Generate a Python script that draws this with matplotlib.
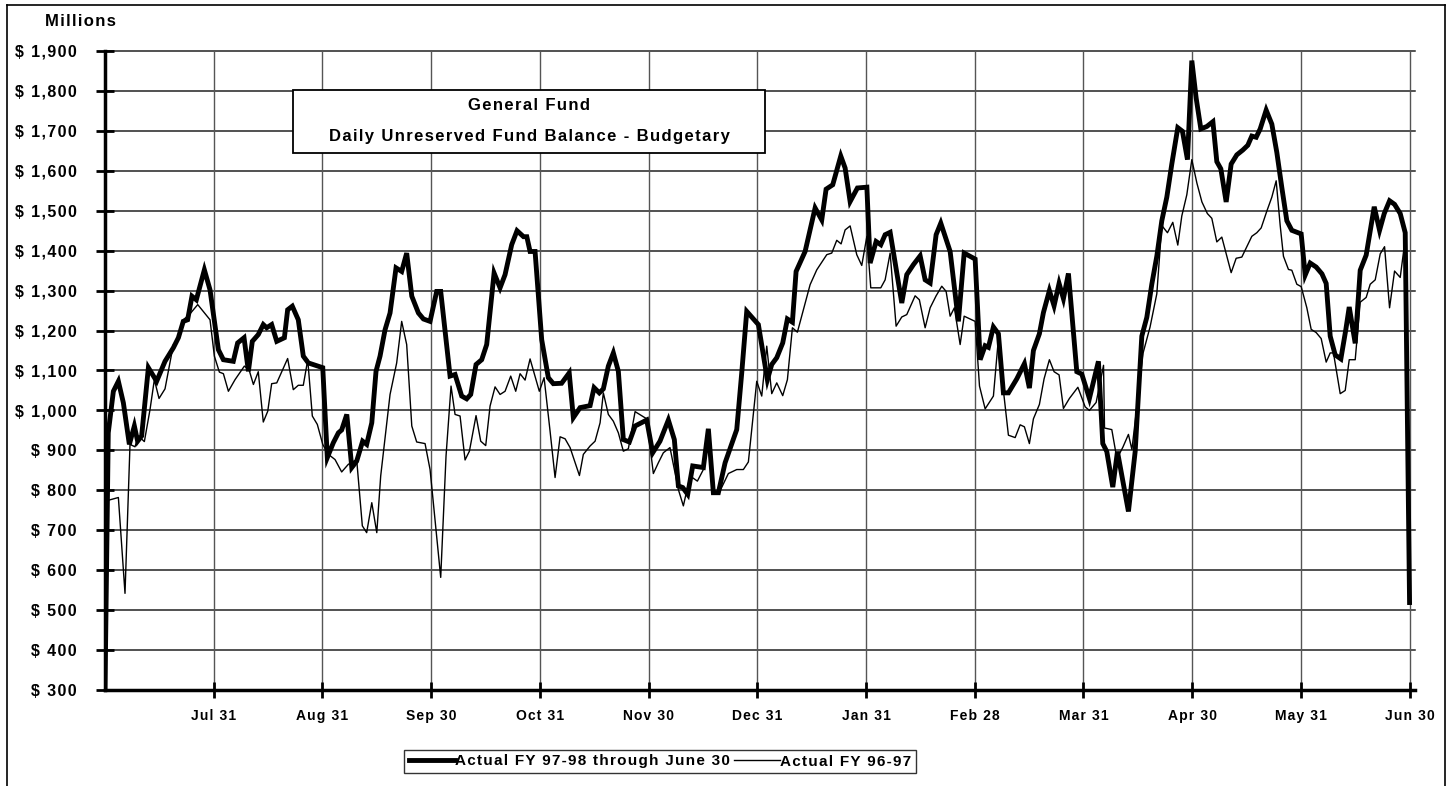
import matplotlib
matplotlib.use("Agg")
import matplotlib.pyplot as plt
from matplotlib.patches import Rectangle
from matplotlib.lines import Line2D

plt.rcParams['font.family'] = ['Liberation Sans', 'DejaVu Sans']
plt.rcParams['font.weight'] = 'bold'

# x = position in months since Jul 1 (1 = Jul 31 ... 12 = Jun 30)
month_labels = ["Jul 31", "Aug 31", "Sep 30", "Oct 31", "Nov 30", "Dec 31",
                "Jan 31", "Feb 28", "Mar 31", "Apr 30", "May 31", "Jun 30"]

fy98_x = [0.00, 0.03, 0.077, 0.123, 0.169, 0.224, 0.27, 0.30, 0.337, 0.399, 0.475, 0.552, 0.629, 0.675,
          0.72, 0.76, 0.80, 0.84, 0.914, 0.966, 1.043, 1.089, 1.18, 1.22, 1.279, 1.319, 1.355, 1.41,
          1.456, 1.487, 1.533, 1.58, 1.65, 1.68, 1.723, 1.778, 1.824, 1.87, 2.003, 2.045, 2.10, 2.147,
          2.177, 2.224, 2.27, 2.315, 2.37, 2.407, 2.454, 2.493, 2.53, 2.576, 2.622, 2.677, 2.729, 2.775,
          2.822, 2.883, 2.929, 2.99, 3.051, 3.088, 3.174, 3.22, 3.281, 3.327, 3.364, 3.413, 3.465, 3.511,
          3.579, 3.634, 3.68, 3.741, 3.79, 3.85, 3.88, 3.91, 3.956, 4.017, 4.078, 4.124, 4.2, 4.27,
          4.308, 4.37, 4.462, 4.499, 4.547, 4.584, 4.63, 4.676, 4.722, 4.768, 4.823, 4.876, 4.983, 5.038,
          5.105, 5.182, 5.237, 5.274, 5.314, 5.36, 5.406, 5.504, 5.55, 5.596, 5.642, 5.704, 5.811, 5.857,
          5.903, 6.01, 6.093, 6.133, 6.179, 6.234, 6.277, 6.323, 6.357, 6.44, 6.532, 6.593, 6.633, 6.694,
          6.768, 6.808, 6.854, 6.921, 7.008, 7.038, 7.093, 7.136, 7.176, 7.222, 7.329, 7.375, 7.436, 7.498,
          7.544, 7.59, 7.645, 7.688, 7.774, 7.85, 7.903, 8.004, 8.05, 8.096, 8.126, 8.172, 8.218, 8.264,
          8.31, 8.387, 8.457, 8.503, 8.54, 8.595, 8.632, 8.687, 8.73, 8.776, 8.816, 8.862, 8.939, 8.985,
          9.055, 9.138, 9.178, 9.215, 9.27, 9.313, 9.414, 9.476, 9.537, 9.583, 9.629, 9.675, 9.721, 9.767,
          9.813, 9.868, 9.911, 9.957, 9.997, 10.037, 10.08, 10.135, 10.191, 10.227, 10.264, 10.313, 10.359, 10.411,
          10.466, 10.512, 10.549, 10.589, 10.626, 10.681, 10.733, 10.779, 10.825, 10.871, 10.917, 11.003, 11.04, 11.086,
          11.141, 11.194, 11.233, 11.27, 11.316, 11.368, 11.414, 11.445, 11.5, 11.546, 11.601, 11.675, 11.724, 11.767,
          11.816, 11.862, 11.914, 11.96, 12.0]
fy98_y = [300, 944, 1048, 1073, 1019, 915, 961, 923, 936, 1107, 1073, 1123, 1157, 1182,
          1223, 1227, 1286, 1277, 1352, 1302, 1152, 1127, 1123, 1169, 1182, 1098, 1173, 1190,
          1215, 1207, 1215, 1173, 1182, 1252, 1261, 1227, 1136, 1119, 1107, 882, 919, 944,
          951, 990, 857, 873, 923, 915, 969, 1098, 1136, 1202, 1244, 1357, 1348, 1394,
          1286, 1244, 1229, 1223, 1298, 1298, 1086, 1090, 1036, 1029, 1040, 1115, 1127, 1165,
          1344, 1307, 1340, 1415, 1450, 1435, 1435, 1398, 1398, 1177, 1082, 1067, 1068, 1094,
          982, 1007, 1012, 1057, 1044, 1054, 1111, 1144, 1098, 927, 921, 961, 976, 894,
          923, 976, 927, 811, 807, 790, 861, 857, 954, 794, 794, 869, 952, 1094,
          1248, 1215, 1077, 1115, 1132, 1169, 1229, 1221, 1348, 1398, 1507, 1477, 1554, 1565,
          1637, 1607, 1523, 1557, 1559, 1369, 1423, 1415, 1440, 1446, 1269, 1340, 1365, 1387,
          1327, 1319, 1440, 1469, 1398, 1223, 1394, 1379, 1127, 1162, 1158, 1209, 1192, 1044,
          1044, 1079, 1117, 1056, 1150, 1192, 1245, 1300, 1262, 1318, 1280, 1343, 1097, 1091,
          1030, 1123, 917, 897, 808, 897, 747, 897, 1186, 1233, 1316, 1386, 1475, 1534,
          1617, 1708, 1699, 1628, 1876, 1782, 1705, 1711, 1723, 1623, 1605, 1522, 1617, 1640,
          1652, 1664, 1687, 1684, 1705, 1752, 1717, 1646, 1558, 1475, 1451, 1442, 1339, 1369,
          1359, 1342, 1318, 1186, 1139, 1129, 1203, 1259, 1168, 1351, 1389, 1510, 1451, 1493,
          1525, 1516, 1493, 1445, 519]

fy97_x = [0.03, 0.123, 0.184, 0.23, 0.276, 0.307, 0.362, 0.414, 0.454, 0.497, 0.552, 0.629, 0.675, 0.72,
          0.776, 0.853, 0.966, 1.006, 1.052, 1.089, 1.135, 1.196, 1.282, 1.325, 1.365, 1.41, 1.456, 1.497,
          1.533, 1.58, 1.68, 1.732, 1.778, 1.824, 1.865, 1.907, 1.953, 2.003, 2.055, 2.116, 2.177, 2.238,
          2.315, 2.367, 2.407, 2.454, 2.50, 2.536, 2.622, 2.683, 2.729, 2.775, 2.822, 2.867, 2.944, 2.99,
          3.088, 3.137, 3.183, 3.22, 3.266, 3.312, 3.352, 3.413, 3.456, 3.502, 3.542, 3.588, 3.634, 3.68,
          3.732, 3.778, 3.818, 3.864, 3.91, 3.995, 4.039, 4.094, 4.14, 4.186, 4.232, 4.278, 4.364, 4.4,
          4.462, 4.508, 4.554, 4.584, 4.63, 4.676, 4.722, 4.768, 4.814, 4.876, 4.983, 5.044, 5.09, 5.136,
          5.197, 5.274, 5.32, 5.382, 5.449, 5.504, 5.55, 5.596, 5.642, 5.734, 5.811, 5.872, 5.918, 5.995,
          6.041, 6.087, 6.133, 6.179, 6.234, 6.277, 6.323, 6.369, 6.424, 6.486, 6.547, 6.639, 6.685, 6.731,
          6.771, 6.808, 6.854, 6.915, 6.961, 7.008, 7.044, 7.136, 7.176, 7.222, 7.277, 7.329, 7.375, 7.452,
          7.491, 7.544, 7.59, 7.645, 7.697, 7.737, 7.774, 7.813, 7.866, 7.903, 8.004, 8.044, 8.096, 8.172,
          8.218, 8.264, 8.31, 8.372, 8.418, 8.457, 8.503, 8.54, 8.595, 8.638, 8.687, 8.73, 8.776, 8.816,
          8.871, 8.949, 9.016, 9.055, 9.117, 9.185, 9.194, 9.261, 9.308, 9.363, 9.414, 9.446, 9.549, 9.613,
          9.675, 9.721, 9.773, 9.822, 9.868, 9.905, 9.951, 9.997, 10.044, 10.09, 10.14, 10.181, 10.227, 10.273,
          10.359, 10.405, 10.457, 10.503, 10.549, 10.595, 10.635, 10.687, 10.733, 10.773, 10.81, 10.84, 10.886, 10.917,
          10.963, 11.003, 11.055, 11.095, 11.141, 11.187, 11.233, 11.27, 11.3, 11.362, 11.408, 11.445, 11.5, 11.546,
          11.601, 11.638, 11.684, 11.73, 11.77, 11.816, 11.862, 11.914, 11.945]
fy97_y = [775, 782, 542, 915, 909, 936, 922, 1002, 1077, 1030, 1054, 1165, 1177, 1227,
          1240, 1265, 1227, 1136, 1096, 1092, 1048, 1077, 1111, 1102, 1065, 1097, 971, 998,
          1067, 1069, 1130, 1052, 1063, 1063, 1127, 986, 965, 915, 890, 877, 846, 865,
          877, 711, 694, 769, 694, 836, 1040, 1119, 1223, 1165, 961, 921, 917, 852,
          582, 886, 1061, 990, 986, 876, 898, 987, 923, 912, 1011, 1059, 1040, 1048,
          1086, 1048, 1092, 1076, 1129, 1048, 1082, 948, 832, 934, 929, 907, 837, 890,
          911, 923, 969, 1044, 990, 973, 944, 898, 904, 997, 979, 842, 869, 894,
          907, 802, 761, 836, 823, 852, 944, 802, 790, 842, 852, 852, 871, 1073,
          1036, 1161, 1042, 1069, 1037, 1077, 1207, 1196, 1252, 1315, 1352, 1390, 1394, 1426,
          1417, 1452, 1462, 1390, 1363, 1436, 1307, 1307, 1327, 1394, 1211, 1234, 1240, 1287,
          1277, 1207, 1257, 1287, 1311, 1298, 1236, 1257, 1165, 1236, 1223, 1061, 1004, 1036,
          1180, 1050, 938, 932, 964, 959, 917, 979, 1015, 1079, 1127, 1097, 1089, 1005,
          1030, 1058, 1009, 1000, 1020, 1113, 956, 952, 879, 908, 940, 902, 1144, 1209,
          1292, 1463, 1445, 1471, 1414, 1487, 1540, 1628, 1569, 1522, 1493, 1481, 1422, 1434,
          1345, 1381, 1384, 1410, 1436, 1445, 1457, 1499, 1534, 1575, 1463, 1386, 1353, 1351,
          1316, 1310, 1257, 1203, 1195, 1180, 1121, 1144, 1144, 1042, 1050, 1127, 1127, 1271,
          1283, 1316, 1327, 1392, 1410, 1257, 1349, 1333, 1398]

y_ticks = list(range(300, 2000, 100))


def spaced(s):
    # the original uses wide letter spacing
    return "\u200a".join(s)


W, H = 1452, 786
fig = plt.figure(figsize=(W / 100, H / 100), dpi=100)
ax = fig.add_axes([105 / W, 1 - 690 / H, 1310 / W, 639 / H])

ax.plot(fy97_x, fy97_y, color="black", lw=1.0, label=spaced("Actual FY 96-97"), zorder=3)
ax.plot(fy98_x, fy98_y, color="black", lw=3.5, label=spaced("Actual FY 97-98 through June 30"),
        zorder=4, solid_joinstyle="miter")

ax.set_xlim(0, 12.05)
ax.set_ylim(300, 1900)

ax.set_yticks(y_ticks)
ax.set_yticklabels([spaced(f"$ {v:,}") for v in y_ticks], fontsize=11.5, fontweight="bold")
ax.set_xticks(range(1, 13))
ax.set_xticklabels([spaced(s) for s in month_labels], fontsize=10, fontweight="bold")
ax.tick_params(axis="y", direction="inout", length=13, width=2, pad=14)
ax.tick_params(axis="x", direction="inout", length=12, width=2, pad=7.5)

for v in y_ticks:
    ax.axhline(v, color="#222222", lw=1.1, zorder=1, clip_on=False)
for m in range(1, 13):
    ax.axvline(m, color="#555555", lw=1.0, zorder=1)

for side in ["top", "right"]:
    ax.spines[side].set_visible(False)
ax.spines["left"].set_linewidth(2.5)
ax.spines["bottom"].set_linewidth(2.5)

fig.text(45 / W, 1 - 22 / H, spaced("Millions"), fontsize=12, fontweight="bold", va="center")

# title box
fig.add_artist(Rectangle((293 / W, 1 - 153 / H), 472 / W, 63 / H, transform=fig.transFigure,
                         facecolor="white", edgecolor="black", lw=1.3, zorder=5))
fig.text(529 / W, 1 - 106 / H, spaced("General Fund"), ha="center", va="center",
         fontsize=12, fontweight="bold", zorder=6)
fig.text(529 / W, 1 - 136 / H, spaced("Daily Unreserved Fund Balance - Budgetary"), ha="center",
         va="center", fontsize=12, fontweight="bold", zorder=6)

# outer frame
for xs, ys in [([7, 7], [5, 786]), ([7, 1445], [5, 5]), ([1445, 1445], [5, 786])]:
    fig.add_artist(Line2D([x / W for x in xs], [1 - y / H for y in ys], transform=fig.transFigure,
                          color="black", lw=1.2))

handles, labels = ax.get_legend_handles_labels()
leg = fig.legend(handles[::-1], labels[::-1], loc="center", bbox_to_anchor=(660 / W, 1 - 761.5 / H),
                 ncol=2, frameon=True, fancybox=False, edgecolor="black",
                 handlelength=3.0, handletextpad=0.0, columnspacing=0.3, borderpad=0.3,
                 prop={"weight": "bold", "size": 11})
leg.get_frame().set_linewidth(1.0)

fig.savefig("out.png", dpi=100)
